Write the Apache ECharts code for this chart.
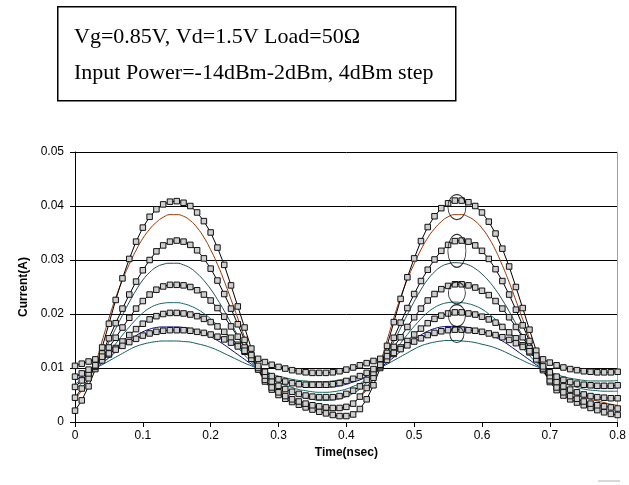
<!DOCTYPE html>
<html>
<head>
<meta charset="UTF-8">
<title>Current waveform</title>
<script src="https://cdn.jsdelivr.net/npm/echarts@6/dist/echarts.min.js"></script>
<style>
  html, body { margin: 0; padding: 0; background: #fff; }
  #main { width: 629px; height: 485px; }
</style>
</head>
<body>
<div id="main"></div>
<script>
// time grid, 0 .. 0.8 ns, 0.01 ns step
var tStep = 0.01, tCount = 81;
var times = [];
for (var i = 0; i < tCount; i++) times.push(+(i * tStep).toFixed(2));

// measured (with markers), largest input power first
var measA = [0.0021,0.0040,0.0066,0.0098,0.0138,0.0182,0.0226,0.0266,0.0302,0.0334,0.0360,0.0380,0.0394,0.0403,0.0408,0.0409,0.0406,0.0400,0.0388,0.0372,0.0351,0.0323,0.0291,0.0253,0.0214,0.0175,0.0136,0.0100,0.0075,0.0060,0.0050,0.0043,0.0037,0.0032,0.0027,0.0023,0.0019,0.0016,0.0013,0.0011,0.0011,0.0014,
  0.0024,0.0042,0.0068,0.0100,0.0141,0.0185,0.0228,0.0268,0.0303,0.0335,0.0361,0.0381,0.0396,0.0405,0.0410,0.0410,0.0407,0.0400,0.0388,0.0371,0.0349,0.0321,0.0288,0.0250,0.0211,0.0171,0.0132,0.0098,0.0074,0.0059,0.0049,0.0042,0.0036,0.0031,0.0026,0.0022,0.0018,0.0015,0.0013];
var measB = [0.0045,0.0062,0.0081,0.0102,0.0127,0.0155,0.0183,0.0210,0.0236,0.0260,0.0281,0.0300,0.0316,0.0327,0.0334,0.0336,0.0334,0.0328,0.0318,0.0303,0.0284,0.0262,0.0237,0.0210,0.0181,0.0152,0.0123,0.0097,0.0078,0.0064,0.0055,0.0048,0.0042,0.0038,0.0034,0.0031,0.0029,0.0027,0.0026,0.0026,0.0028,0.0034,
  0.0047,0.0063,0.0082,0.0103,0.0128,0.0156,0.0184,0.0211,0.0237,0.0261,0.0282,0.0301,0.0317,0.0328,0.0335,0.0336,0.0334,0.0327,0.0317,0.0302,0.0283,0.0261,0.0236,0.0208,0.0179,0.0150,0.0121,0.0096,0.0077,0.0064,0.0055,0.0048,0.0043,0.0038,0.0034,0.0031,0.0029,0.0027,0.0025];
var measC = [0.0065,0.0077,0.0090,0.0104,0.0120,0.0138,0.0156,0.0175,0.0193,0.0210,0.0224,0.0236,0.0245,0.0251,0.0254,0.0254,0.0253,0.0250,0.0244,0.0236,0.0225,0.0211,0.0195,0.0177,0.0158,0.0138,0.0118,0.0100,0.0086,0.0075,0.0067,0.0061,0.0056,0.0052,0.0049,0.0047,0.0046,0.0046,0.0046,0.0048,0.0052,0.0058,
  0.0066,0.0078,0.0091,0.0105,0.0121,0.0139,0.0157,0.0176,0.0194,0.0210,0.0225,0.0237,0.0246,0.0252,0.0255,0.0255,0.0253,0.0249,0.0243,0.0235,0.0224,0.0210,0.0194,0.0176,0.0157,0.0137,0.0117,0.0099,0.0085,0.0074,0.0066,0.0060,0.0055,0.0051,0.0048,0.0046,0.0045,0.0044,0.0044];
var measD = [0.0084,0.0090,0.0097,0.0105,0.0114,0.0125,0.0137,0.0149,0.0161,0.0172,0.0182,0.0190,0.0196,0.0200,0.0202,0.0202,0.0201,0.0199,0.0196,0.0191,0.0185,0.0177,0.0167,0.0156,0.0143,0.0130,0.0117,0.0104,0.0093,0.0085,0.0079,0.0075,0.0072,0.0070,0.0069,0.0069,0.0069,0.0069,0.0070,0.0072,0.0076,0.0080,
  0.0085,0.0091,0.0098,0.0106,0.0115,0.0126,0.0138,0.0150,0.0162,0.0173,0.0183,0.0191,0.0197,0.0201,0.0203,0.0203,0.0201,0.0199,0.0195,0.0190,0.0184,0.0176,0.0166,0.0155,0.0142,0.0129,0.0116,0.0103,0.0092,0.0084,0.0078,0.0074,0.0071,0.0069,0.0068,0.0067,0.0067,0.0067,0.0068];
var measE = [0.0104,0.0108,0.0112,0.0116,0.0121,0.0127,0.0134,0.0141,0.0148,0.0154,0.0160,0.0164,0.0167,0.0169,0.0170,0.0170,0.0170,0.0169,0.0167,0.0165,0.0162,0.0158,0.0153,0.0147,0.0140,0.0132,0.0124,0.0117,0.0111,0.0106,0.0102,0.0099,0.0096,0.0094,0.0092,0.0091,0.0091,0.0091,0.0092,0.0094,0.0097,0.0101,
  0.0105,0.0109,0.0113,0.0117,0.0122,0.0128,0.0135,0.0142,0.0149,0.0155,0.0161,0.0165,0.0168,0.0170,0.0171,0.0171,0.0170,0.0169,0.0167,0.0164,0.0161,0.0157,0.0152,0.0146,0.0139,0.0131,0.0123,0.0116,0.0110,0.0105,0.0101,0.0098,0.0096,0.0094,0.0093,0.0092,0.0092,0.0092,0.0093];

// simulated (plain lines)
var simA = [0.0043,0.0058,0.0078,0.0108,0.0150,0.0192,0.0230,0.0263,0.0292,0.0318,0.0340,0.0357,0.0370,0.0379,0.0384,0.0384,0.0381,0.0373,0.0360,0.0342,0.0319,0.0292,0.0261,0.0227,0.0192,0.0157,0.0124,0.0096,0.0077,0.0066,0.0058,0.0052,0.0046,0.0040,0.0035,0.0030,0.0026,0.0023,0.0021,0.0022,0.0027,0.0035,
  0.0046,0.0060,0.0080,0.0110,0.0151,0.0193,0.0231,0.0264,0.0293,0.0319,0.0341,0.0358,0.0371,0.0380,0.0384,0.0384,0.0380,0.0372,0.0359,0.0341,0.0318,0.0290,0.0259,0.0225,0.0190,0.0155,0.0122,0.0095,0.0077,0.0067,0.0060,0.0055,0.0050,0.0046,0.0042,0.0039,0.0036,0.0033,0.0031];
var simB = [0.0060,0.0072,0.0086,0.0103,0.0124,0.0148,0.0173,0.0198,0.0222,0.0244,0.0263,0.0277,0.0287,0.0292,0.0294,0.0294,0.0291,0.0285,0.0275,0.0262,0.0246,0.0227,0.0206,0.0183,0.0160,0.0137,0.0116,0.0098,0.0084,0.0073,0.0065,0.0058,0.0052,0.0048,0.0044,0.0042,0.0040,0.0040,0.0041,0.0043,0.0047,0.0053,
  0.0061,0.0073,0.0087,0.0104,0.0125,0.0149,0.0174,0.0199,0.0223,0.0245,0.0264,0.0278,0.0288,0.0293,0.0295,0.0294,0.0291,0.0284,0.0274,0.0261,0.0245,0.0226,0.0205,0.0182,0.0159,0.0136,0.0115,0.0097,0.0083,0.0072,0.0064,0.0057,0.0052,0.0048,0.0045,0.0043,0.0041,0.0040,0.0040];
var simC = [0.0070,0.0079,0.0089,0.0101,0.0114,0.0129,0.0145,0.0161,0.0176,0.0190,0.0202,0.0211,0.0217,0.0220,0.0221,0.0221,0.0219,0.0215,0.0209,0.0201,0.0191,0.0179,0.0166,0.0152,0.0138,0.0124,0.0111,0.0099,0.0089,0.0081,0.0074,0.0068,0.0064,0.0060,0.0058,0.0056,0.0055,0.0055,0.0056,0.0058,0.0061,0.0066,
  0.0071,0.0080,0.0090,0.0102,0.0115,0.0130,0.0146,0.0162,0.0177,0.0191,0.0203,0.0212,0.0218,0.0221,0.0222,0.0221,0.0219,0.0215,0.0209,0.0200,0.0190,0.0178,0.0165,0.0151,0.0137,0.0123,0.0110,0.0098,0.0088,0.0080,0.0073,0.0068,0.0064,0.0061,0.0059,0.0058,0.0057,0.0057,0.0057];
var simD = [0.0077,0.0084,0.0091,0.0100,0.0109,0.0119,0.0130,0.0141,0.0151,0.0160,0.0167,0.0172,0.0175,0.0176,0.0176,0.0176,0.0175,0.0173,0.0169,0.0164,0.0158,0.0151,0.0143,0.0134,0.0125,0.0116,0.0107,0.0099,0.0092,0.0085,0.0079,0.0074,0.0070,0.0067,0.0065,0.0064,0.0064,0.0064,0.0065,0.0067,0.0070,0.0074,
  0.0078,0.0085,0.0092,0.0101,0.0110,0.0120,0.0131,0.0142,0.0152,0.0161,0.0168,0.0173,0.0176,0.0177,0.0177,0.0176,0.0175,0.0172,0.0168,0.0163,0.0157,0.0150,0.0142,0.0133,0.0124,0.0115,0.0106,0.0098,0.0091,0.0084,0.0078,0.0073,0.0069,0.0066,0.0064,0.0063,0.0063,0.0063,0.0063];
var simE = [0.0084,0.0089,0.0094,0.0100,0.0106,0.0113,0.0120,0.0127,0.0134,0.0140,0.0144,0.0147,0.0149,0.0150,0.0150,0.0150,0.0149,0.0148,0.0145,0.0142,0.0138,0.0133,0.0127,0.0121,0.0115,0.0109,0.0104,0.0099,0.0094,0.0089,0.0085,0.0082,0.0079,0.0077,0.0076,0.0075,0.0075,0.0075,0.0076,0.0078,0.0080,0.0082,
  0.0085,0.0090,0.0095,0.0101,0.0107,0.0114,0.0121,0.0128,0.0135,0.0141,0.0145,0.0148,0.0150,0.0151,0.0151,0.0150,0.0149,0.0147,0.0144,0.0141,0.0137,0.0132,0.0126,0.0120,0.0114,0.0108,0.0103,0.0098,0.0093,0.0088,0.0084,0.0081,0.0079,0.0077,0.0076,0.0076,0.0076,0.0076,0.0077];

// ellipses marking the second peaks
var ringT = 0.563;
var ringY = [0.0398, 0.0317, 0.0239, 0.0197, 0.0162];
var ringSize = [[18, 25], [18, 33], [17, 22], [17, 22], [14, 16]];

var noteLines = ['Vg=0.85V, Vd=1.5V Load=50\u03a9', 'Input Power=-14dBm-2dBm, 4dBm step'];

var measured = [measA, measB, measC, measD, measE];
var simulated = [simA, simB, simC, simD, simE];
var simColors = ['#993300', '#1c4f4f', '#0b6464', '#000080', '#0a5a5a'];

function pairs(arr) {
  return arr.map(function (v, k) { return [times[k], v]; });
}

var series = [];
simulated.forEach(function (arr, k) {
  series.push({
    type: 'line', data: pairs(arr), smooth: true, showSymbol: false,
    lineStyle: { color: simColors[k], width: 1 }, z: 2
  });
});
measured.forEach(function (arr) {
  series.push({
    type: 'line', data: pairs(arr), symbol: 'rect', symbolSize: 5.5,
    itemStyle: { color: '#cfcfcf', borderColor: '#111', borderWidth: 1 },
    lineStyle: { color: '#000', width: 1 }, z: 3
  });
});
series.push({
  type: 'scatter', z: 4,
  data: ringY.map(function (y, k) {
    return { value: [ringT, y], symbolSize: ringSize[k] };
  }),
  symbol: 'circle',
  itemStyle: { color: 'rgba(0,0,0,0)', borderColor: '#000', borderWidth: 1 }
});

var myChart = echarts.init(document.getElementById('main'));
var option = {
  animation: false,
  backgroundColor: '#fff',
  grid: { left: 75, right: 9, top: 152, bottom: 63 },
  xAxis: {
    type: 'value', min: 0, max: 0.8, interval: 0.1,
    name: 'Time(nsec)', nameLocation: 'middle', nameGap: 25,
    nameTextStyle: { fontFamily: 'Liberation Sans', fontSize: 12, fontWeight: 'bold', color: '#000' },
    axisLine: { lineStyle: { color: '#000', width: 1 } },
    axisTick: { show: true, length: 5, lineStyle: { color: '#000' } },
    axisLabel: {
      fontFamily: 'Liberation Sans', fontSize: 12, color: '#000', margin: 8,
      formatter: function (v) { return String(+v.toFixed(2)); }
    },
    splitLine: { show: false }
  },
  yAxis: [{
    type: 'value', min: 0, max: 0.05, interval: 0.01,
    name: 'Current(A)', nameLocation: 'middle', nameGap: 42,
    nameTextStyle: { fontFamily: 'Liberation Sans', fontSize: 12, fontWeight: 'bold', color: '#000' },
    axisLine: { show: true, lineStyle: { color: '#000', width: 1 } },
    axisTick: { show: true, length: 5, lineStyle: { color: '#000' } },
    axisLabel: {
      fontFamily: 'Liberation Sans', fontSize: 12, color: '#000', margin: 11,
      formatter: function (v) { return String(+v.toFixed(3)); }
    },
    splitLine: { show: true, lineStyle: { color: '#000', width: 1 } }
  }, {
    type: 'value', min: 0, max: 0.05, interval: 0.01, position: 'right',
    axisLine: { show: true, lineStyle: { color: '#a0a0a0', width: 1 } },
    axisTick: { show: false }, axisLabel: { show: false }, splitLine: { show: false }
  }],
  graphic: [{
    type: 'rect', left: 57, top: 6,
    shape: { width: 398, height: 94 },
    style: { fill: '#fff', stroke: '#000', lineWidth: 1.5 }
  }, {
    type: 'text', left: 74, top: 26,
    style: { text: noteLines[0], font: '22px "Liberation Serif"', fill: '#000' }
  }, {
    type: 'text', left: 74, top: 62,
    style: { text: noteLines[1], font: '22px "Liberation Serif"', fill: '#000' }
  }, {
    type: 'line', shape: { x1: 598, y1: 481, x2: 620, y2: 481 },
    style: { stroke: '#b0b0b0', lineWidth: 1 }
  }],
  series: series
};
myChart.setOption(option);
</script>
</body>
</html>
